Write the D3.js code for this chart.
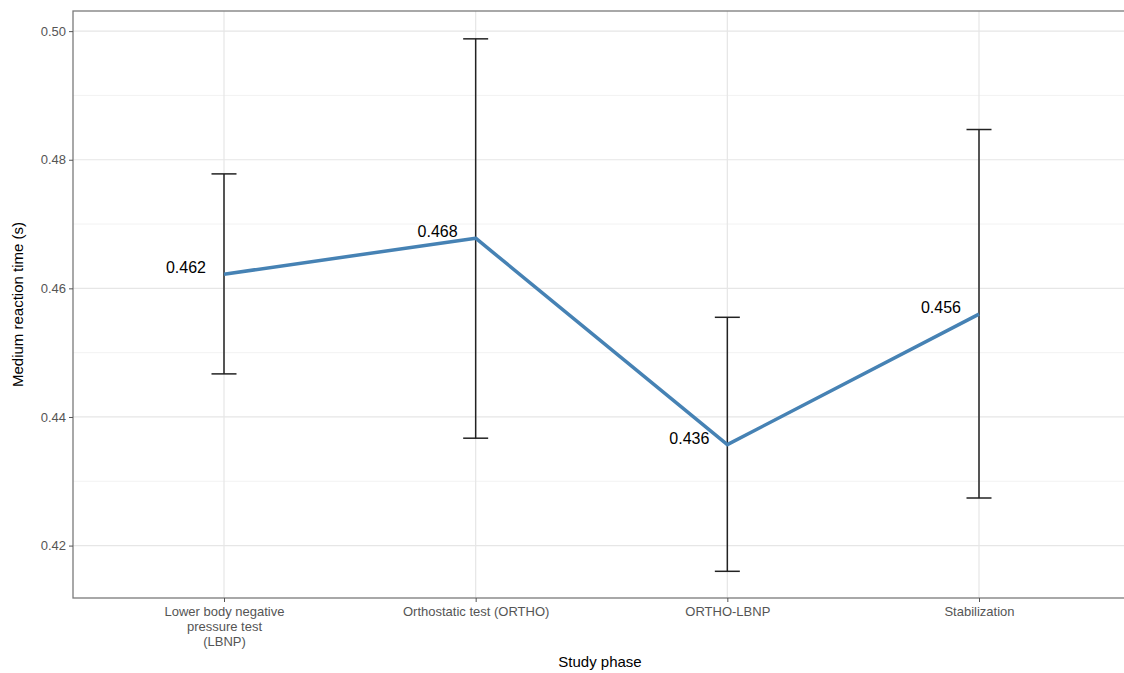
<!DOCTYPE html>
<html>
<head>
<meta charset="utf-8">
<script src="https://cdn.jsdelivr.net/npm/d3@7"></script>
<style>
  body { margin: 0; background: #fff; overflow: hidden; }
  svg { display: block; font-family: "Liberation Sans", Arial, sans-serif; }
</style>
</head>
<body>
<svg id="chart" width="1124" height="673"></svg>
<script>
// study phases (x labels, split into lines)
const PHASES = [
  ["Lower body negative", "pressure test", "(LBNP)"],
  ["Orthostatic test (ORTHO)"],
  ["ORTHO-LBNP"],
  ["Stabilization"],
]
const MEANS = [0.4622, 0.4678, 0.4357, 0.4560]
const UPPER = [0.4778, 0.4988, 0.4555, 0.4847]
const LOWER = [0.4467, 0.4367, 0.4160, 0.4274]
const LABELS = ["0.462", "0.468", "0.436", "0.456"]
const Y_TICKS = [0.42, 0.44, 0.46, 0.48, 0.50]
const Y_MINOR = [0.43, 0.45, 0.47, 0.49]

const svg = d3.select("#chart")
// panel runs a little past the right edge of the picture (cropped in the original)
const margin = { left: 73, right: -6, top: 11, bottom: 75 }
const width = 1124 - margin.left - margin.right
const height = 673 - margin.top - margin.bottom

const g = svg.append("g").attr("transform", `translate(${margin.left},${margin.top})`)

const x = d3.scalePoint()
  .domain(d3.range(PHASES.length))
  .range([0, width])
  .padding(0.6)

const y = d3.scaleLinear()
  .domain([0.41185, 0.50313])
  .range([height, 0])

// grid
g.selectAll(".minor").data(Y_MINOR).join("line")
  .attr("x1", 0).attr("x2", width)
  .attr("y1", d => y(d)).attr("y2", d => y(d))
  .attr("stroke", "#f2f2f2").attr("stroke-width", 1)
g.selectAll(".major").data(Y_TICKS).join("line")
  .attr("x1", 0).attr("x2", width)
  .attr("y1", d => y(d)).attr("y2", d => y(d))
  .attr("stroke", "#e6e6e6").attr("stroke-width", 1.2)
g.selectAll(".vmajor").data(d3.range(PHASES.length)).join("line")
  .attr("x1", d => x(d)).attr("x2", d => x(d))
  .attr("y1", 0).attr("y2", height)
  .attr("stroke", "#e6e6e6").attr("stroke-width", 1.2)

// error bars
const capHalf = 12.5
const bars = g.append("g").attr("stroke", "#222").attr("stroke-width", 1.5).attr("fill", "none")
MEANS.forEach((_, i) => {
  const cx = x(i)
  bars.append("path").attr("d", d3.line()([[cx, y(LOWER[i])], [cx, y(UPPER[i])]]))
  bars.append("path").attr("d", d3.line()([[cx - capHalf, y(UPPER[i])], [cx + capHalf, y(UPPER[i])]]))
  bars.append("path").attr("d", d3.line()([[cx - capHalf, y(LOWER[i])], [cx + capHalf, y(LOWER[i])]]))
})

// mean line
g.append("path")
  .datum(MEANS)
  .attr("fill", "none")
  .attr("stroke", "#4682B4")
  .attr("stroke-width", 3.5)
  .attr("stroke-linejoin", "round")
  .attr("d", d3.line().x((d, i) => x(i)).y(d => y(d)))

// value labels
g.selectAll(".val").data(MEANS).join("text")
  .attr("x", (d, i) => x(i) - 18)
  .attr("y", d => y(d) - 1)
  .attr("text-anchor", "end")
  .attr("font-size", 16)
  .attr("fill", "#000")
  .text((d, i) => LABELS[i])

// panel border
g.append("rect")
  .attr("width", width).attr("height", height)
  .attr("fill", "none").attr("stroke", "#7a7a7a").attr("stroke-width", 1.3)

// y axis
const yAxis = g.append("g")
  .call(d3.axisLeft(y).tickValues(Y_TICKS).tickFormat(d3.format(".2f")).tickSize(4).tickPadding(3))
yAxis.select(".domain").remove()
yAxis.selectAll("line").attr("stroke", "#555")
yAxis.selectAll("text").attr("fill", "#555").attr("font-size", 13).attr("font-family", "Liberation Sans, Arial, sans-serif")

// x axis
const xAxis = g.append("g")
  .attr("transform", `translate(0,${height})`)
  .call(d3.axisBottom(x).tickSize(4).tickFormat(""))
xAxis.select(".domain").remove()
xAxis.selectAll("line").attr("stroke", "#555")
xAxis.selectAll(".tick").each(function (d) {
  const t = d3.select(this).append("text")
    .attr("fill", "#555")
    .attr("font-size", 13)
    .attr("text-anchor", "middle")
  PHASES[d].forEach((line, k) => {
    t.append("tspan").attr("x", 0).attr("y", 18 + k * 15).text(line)
  })
})

// axis titles
svg.append("text")
  .attr("x", 600)
  .attr("y", 667)
  .attr("text-anchor", "middle")
  .attr("font-size", 15)
  .text("Study phase")

svg.append("text")
  .attr("transform", `translate(23,${margin.top + height / 2}) rotate(-90)`)
  .attr("text-anchor", "middle")
  .attr("font-size", 15)
  .text("Medium reaction time (s)")
</script>
</body>
</html>
